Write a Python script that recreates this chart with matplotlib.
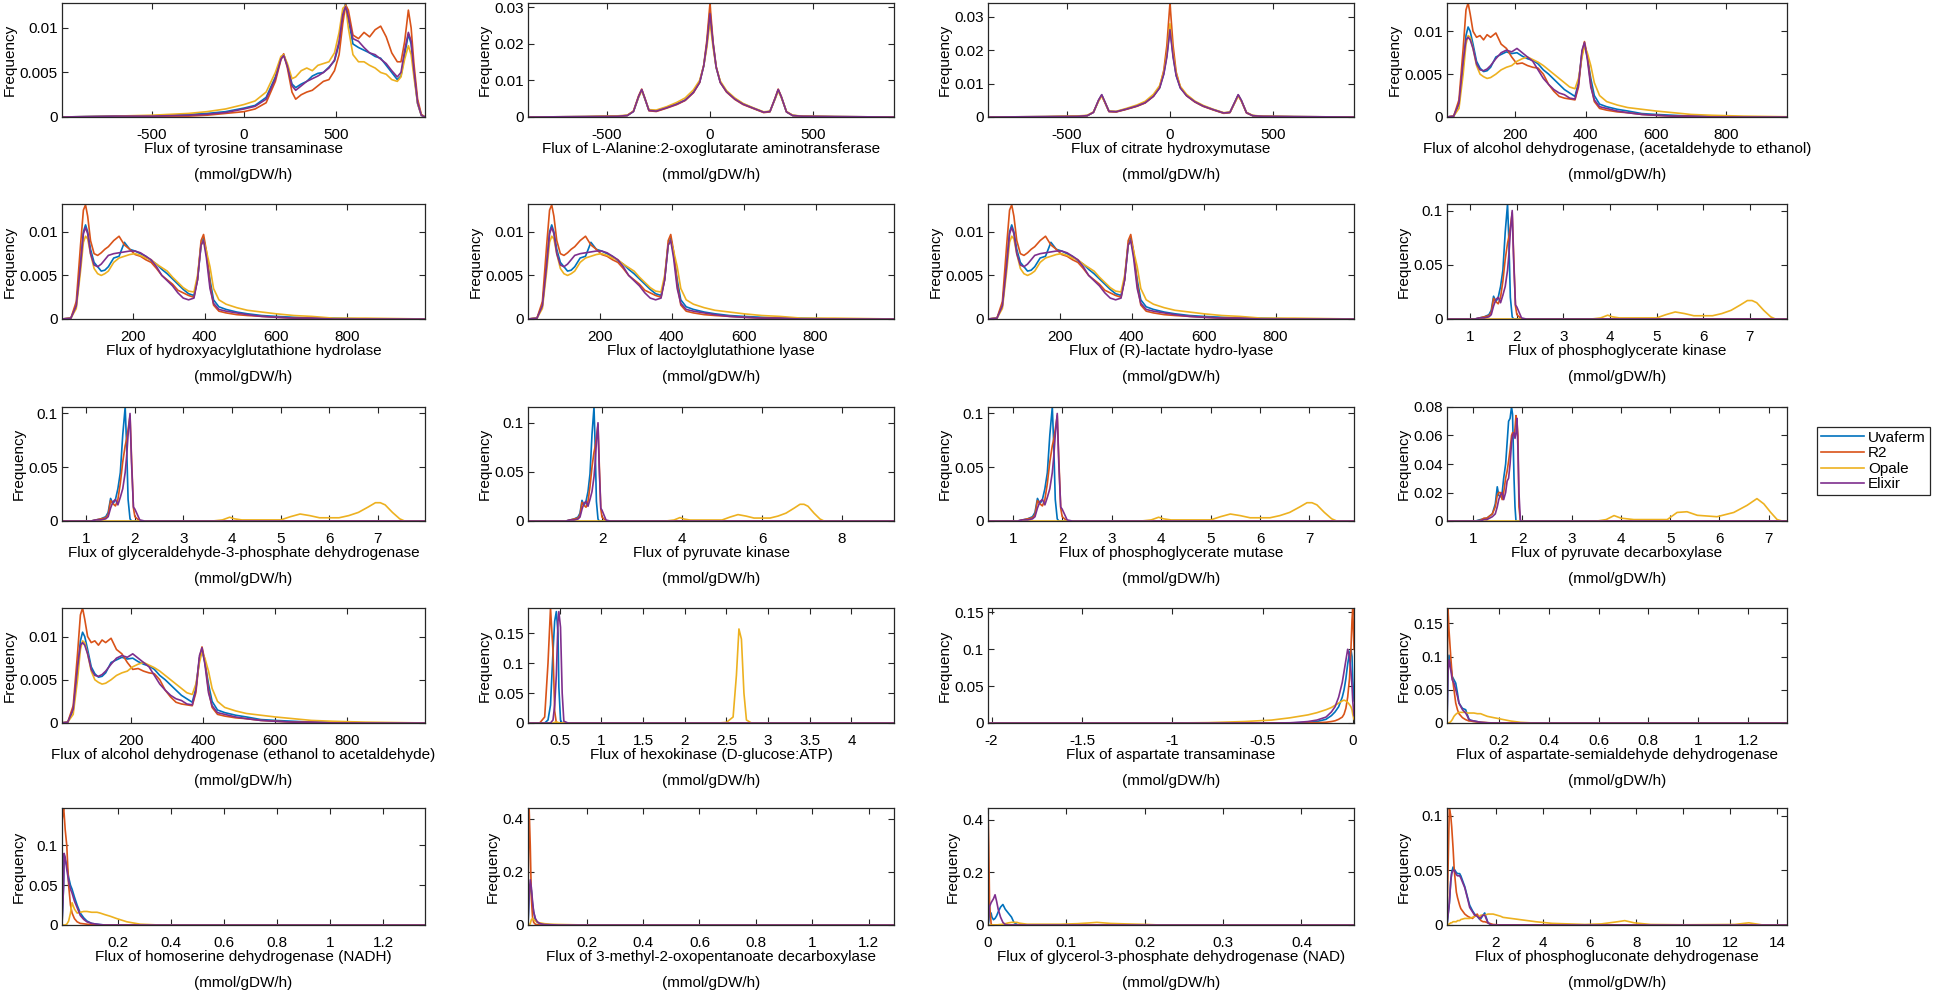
import matplotlib
matplotlib.use("Agg")
import matplotlib.pyplot as plt
from matplotlib.ticker import FuncFormatter
from matplotlib.lines import Line2D

plt.rcParams['font.family'] = ['Liberation Sans', 'DejaVu Sans']
plt.rcParams['axes.unicode_minus'] = False

# ---------------- data ----------------
series_names = ["Uvaferm", "R2", "Opale", "Elixir"]
series_colors = ["#0072BD", "#D95319", "#EDB120", "#7E2F8E"]
unit_label = "(mmol/gDW/h)"

# Panel 1: tyrosine transaminase
x_tyr = [-980, -700, -500, -300, -200, -100, 0, 60, 120, 170, 200, 215, 235, 260, 280, 310, 340, 370, 400, 430,
         460, 490, 515, 535, 550, 565, 590, 620, 650, 680, 710, 740, 770, 800, 830, 850, 870, 890, 905, 920, 940, 960, 980]
tyr_uvaferm = [0, 0.0001, 0.0001, 0.0003, 0.0004, 0.0006, 0.0010, 0.0013, 0.0022, 0.0045, 0.0066, 0.0070, 0.0058, 0.0037,
               0.0033, 0.0037, 0.0040, 0.0046, 0.0049, 0.0050, 0.0056, 0.0063, 0.0082, 0.0112, 0.0128, 0.0110, 0.0082,
               0.0078, 0.0075, 0.0072, 0.0068, 0.0066, 0.0058, 0.0050, 0.0042, 0.0046, 0.0070, 0.0093, 0.0082, 0.0050,
               0.0015, 0.0002, 0]
tyr_r2 = [0, 0, 0.0001, 0.0001, 0.0002, 0.0004, 0.0006, 0.0009, 0.0016, 0.0040, 0.0064, 0.0071, 0.0055, 0.0028, 0.0020,
          0.0025, 0.0028, 0.0030, 0.0035, 0.0040, 0.0042, 0.0052, 0.0070, 0.0105, 0.0126, 0.0120, 0.0092, 0.0088, 0.0095,
          0.0090, 0.0098, 0.0102, 0.0090, 0.0072, 0.0062, 0.0062, 0.0085, 0.0120, 0.0100, 0.0060, 0.0020, 0.0003, 0]
tyr_opale = [0, 0.0001, 0.0002, 0.0004, 0.0006, 0.0009, 0.0014, 0.0018, 0.0028, 0.0050, 0.0068, 0.0070, 0.0060, 0.0043,
             0.0045, 0.0052, 0.0055, 0.0052, 0.0058, 0.0060, 0.0062, 0.0072, 0.0095, 0.0122, 0.0125, 0.0100, 0.0070,
             0.0062, 0.0062, 0.0058, 0.0055, 0.0050, 0.0048, 0.0042, 0.0040, 0.0045, 0.0065, 0.0080, 0.0070, 0.0045,
             0.0015, 0.0002, 0]
tyr_elixir = [0, 0.0001, 0.0001, 0.0002, 0.0003, 0.0005, 0.0009, 0.0012, 0.0020, 0.0043, 0.0065, 0.0069, 0.0057, 0.0035,
              0.0030, 0.0035, 0.0040, 0.0043, 0.0046, 0.0050, 0.0055, 0.0064, 0.0085, 0.0115, 0.0124, 0.0112, 0.0088,
              0.0085, 0.0078, 0.0072, 0.0070, 0.0065, 0.0060, 0.0052, 0.0045, 0.0050, 0.0075, 0.0095, 0.0085, 0.0052,
              0.0016, 0.0002, 0]

# Panel 2: L-Alanine:2-oxoglutarate aminotransferase
x_ala = [-880, -600, -450, -400, -370, -345, -330, -315, -295, -260, -210, -160, -120, -80, -50, -30, -15, 0, 15, 30,
         50, 80, 120, 160, 210, 260, 290, 315, 330, 345, 370, 400, 450, 600, 890]
ala_uvaferm = [0, 0.0001, 0.0002, 0.0004, 0.0015, 0.0055, 0.0074, 0.0050, 0.0018, 0.0017, 0.0026, 0.0036, 0.0046, 0.0068,
               0.0095, 0.0140, 0.0200, 0.0290, 0.0200, 0.0135, 0.0095, 0.0070, 0.0050, 0.0036, 0.0024, 0.0013, 0.0015,
               0.0050, 0.0074, 0.0055, 0.0014, 0.0004, 0.0002, 0.0001, 0]
ala_r2 = [0, 0.0001, 0.0002, 0.0004, 0.0016, 0.0058, 0.0076, 0.0052, 0.0017, 0.0015, 0.0024, 0.0034, 0.0045, 0.0066,
          0.0094, 0.0142, 0.0210, 0.0310, 0.0205, 0.0138, 0.0094, 0.0068, 0.0048, 0.0034, 0.0023, 0.0012, 0.0014,
          0.0052, 0.0076, 0.0056, 0.0014, 0.0004, 0.0002, 0.0001, 0]
ala_opale = [0, 0.0001, 0.0003, 0.0005, 0.0016, 0.0054, 0.0072, 0.0050, 0.0020, 0.0019, 0.0028, 0.0040, 0.0052, 0.0074,
             0.0100, 0.0140, 0.0190, 0.0260, 0.0190, 0.0135, 0.0098, 0.0072, 0.0052, 0.0037, 0.0025, 0.0014, 0.0016,
             0.0049, 0.0071, 0.0053, 0.0015, 0.0005, 0.0002, 0.0001, 0]
ala_elixir = [0, 0.0001, 0.0002, 0.0004, 0.0015, 0.0056, 0.0075, 0.0051, 0.0018, 0.0016, 0.0025, 0.0035, 0.0046, 0.0067,
              0.0094, 0.0140, 0.0200, 0.0282, 0.0200, 0.0136, 0.0094, 0.0069, 0.0049, 0.0035, 0.0024, 0.0013, 0.0015,
              0.0051, 0.0075, 0.0055, 0.0014, 0.0004, 0.0002, 0.0001, 0]

# Panel 3: citrate hydroxymutase
x_cit = [-880, -600, -450, -400, -370, -345, -330, -315, -295, -260, -210, -160, -120, -80, -50, -30, -15, 0, 15, 30,
         50, 80, 120, 160, 210, 260, 290, 315, 330, 345, 370, 400, 450, 600, 890]
cit_uvaferm = [0, 0.0001, 0.0002, 0.0004, 0.0014, 0.0050, 0.0066, 0.0045, 0.0017, 0.0016, 0.0024, 0.0033, 0.0043, 0.0063,
               0.0088, 0.0130, 0.0185, 0.0270, 0.0185, 0.0125, 0.0088, 0.0065, 0.0046, 0.0033, 0.0022, 0.0012, 0.0014,
               0.0046, 0.0066, 0.0050, 0.0013, 0.0004, 0.0002, 0.0001, 0]
cit_r2 = [0, 0.0001, 0.0002, 0.0004, 0.0014, 0.0050, 0.0064, 0.0044, 0.0016, 0.0015, 0.0023, 0.0032, 0.0042, 0.0062,
          0.0090, 0.0140, 0.0215, 0.0342, 0.0215, 0.0135, 0.0090, 0.0064, 0.0045, 0.0032, 0.0021, 0.0011, 0.0013,
          0.0045, 0.0065, 0.0049, 0.0012, 0.0004, 0.0002, 0.0001, 0]
cit_opale = [0, 0.0001, 0.0003, 0.0005, 0.0015, 0.0048, 0.0063, 0.0045, 0.0018, 0.0017, 0.0026, 0.0036, 0.0047, 0.0068,
             0.0094, 0.0135, 0.0190, 0.0280, 0.0190, 0.0130, 0.0092, 0.0068, 0.0048, 0.0035, 0.0023, 0.0013, 0.0015,
             0.0045, 0.0063, 0.0048, 0.0014, 0.0005, 0.0002, 0.0001, 0]
cit_elixir = [0, 0.0001, 0.0002, 0.0004, 0.0014, 0.0051, 0.0067, 0.0046, 0.0017, 0.0016, 0.0024, 0.0033, 0.0043, 0.0062,
              0.0087, 0.0128, 0.0180, 0.0262, 0.0180, 0.0124, 0.0087, 0.0064, 0.0046, 0.0033, 0.0022, 0.0012, 0.0014,
              0.0047, 0.0067, 0.0050, 0.0013, 0.0004, 0.0002, 0.0001, 0]

# Panels 4 and 13: alcohol dehydrogenase
x_adh = [6, 25, 40, 52, 60, 66, 72, 80, 90, 100, 110, 120, 130, 145, 160, 175, 190, 205, 220, 235, 250, 265, 280, 295,
         310, 325, 340, 355, 370, 380, 390, 397, 405, 415, 425, 440, 460, 490, 520, 560, 600, 650, 700, 760, 850, 1020]
adh_uvaferm = [0, 0.0001, 0.0015, 0.0060, 0.0095, 0.0105, 0.0100, 0.0085, 0.0065, 0.0057, 0.0053, 0.0054, 0.0058, 0.0070,
               0.0073, 0.0076, 0.0074, 0.0075, 0.0071, 0.0068, 0.0066, 0.0062, 0.0055, 0.0050, 0.0044, 0.0038, 0.0032,
               0.0028, 0.0024, 0.0040, 0.0075, 0.0085, 0.0070, 0.0045, 0.0025, 0.0015, 0.0012, 0.0009, 0.0007, 0.0004,
               0.0003, 0.0002, 0.0001, 0.0001, 0, 0]
adh_r2 = [0, 0.0001, 0.0020, 0.0080, 0.0125, 0.0133, 0.0120, 0.0100, 0.0093, 0.0095, 0.0090, 0.0096, 0.0093, 0.0098,
          0.0085, 0.0080, 0.0070, 0.0062, 0.0063, 0.0060, 0.0058, 0.0057, 0.0050, 0.0038, 0.0030, 0.0024, 0.0022, 0.0021,
          0.0020, 0.0035, 0.0075, 0.0088, 0.0072, 0.0038, 0.0018, 0.0010, 0.0008, 0.0006, 0.0005, 0.0003, 0.0002, 0.0001,
          0.0001, 0, 0, 0]
adh_opale = [0, 0.0001, 0.0010, 0.0050, 0.0085, 0.0095, 0.0093, 0.0080, 0.0060, 0.0050, 0.0047, 0.0045, 0.0046, 0.0050,
             0.0055, 0.0058, 0.0060, 0.0065, 0.0068, 0.0070, 0.0067, 0.0064, 0.0060, 0.0055, 0.0050, 0.0045, 0.0040,
             0.0035, 0.0033, 0.0045, 0.0070, 0.0082, 0.0075, 0.0060, 0.0040, 0.0025, 0.0018, 0.0014, 0.0011, 0.0009,
             0.0007, 0.0005, 0.0003, 0.0002, 0.0001, 0]
adh_elixir = [0, 0.0001, 0.0016, 0.0065, 0.0090, 0.0093, 0.0090, 0.0080, 0.0062, 0.0055, 0.0054, 0.0056, 0.0060, 0.0068,
              0.0075, 0.0078, 0.0076, 0.0080, 0.0075, 0.0070, 0.0065, 0.0055, 0.0045, 0.0038, 0.0032, 0.0028, 0.0026,
              0.0022, 0.0021, 0.0038, 0.0078, 0.0087, 0.0068, 0.0035, 0.0020, 0.0012, 0.0010, 0.0007, 0.0005, 0.0003,
              0.0002, 0.0001, 0.0001, 0, 0, 0]

# Panels 5-7: glyoxalase-type reactions
x_glo = [0, 25, 40, 52, 60, 66, 72, 80, 90, 100, 110, 120, 130, 145, 160, 175, 190, 205, 220, 235, 250, 265, 280, 295,
         310, 325, 340, 355, 370, 380, 390, 397, 405, 415, 425, 440, 460, 490, 520, 560, 600, 650, 700, 760, 850, 1020]
glo_uvaferm = [0, 0.0001, 0.0016, 0.0065, 0.0100, 0.0108, 0.0100, 0.0080, 0.0065, 0.0060, 0.0055, 0.0056, 0.0060, 0.0070,
               0.0072, 0.0088, 0.0080, 0.0078, 0.0075, 0.0072, 0.0067, 0.0063, 0.0057, 0.0052, 0.0046, 0.0040, 0.0034,
               0.0029, 0.0027, 0.0045, 0.0085, 0.0093, 0.0075, 0.0045, 0.0022, 0.0014, 0.0011, 0.0008, 0.0006, 0.0004,
               0.0003, 0.0002, 0.0001, 0.0001, 0, 0]
glo_r2 = [0, 0.0001, 0.0020, 0.0085, 0.0125, 0.0131, 0.0118, 0.0090, 0.0075, 0.0073, 0.0076, 0.0080, 0.0083, 0.0090,
          0.0095, 0.0085, 0.0080, 0.0074, 0.0072, 0.0068, 0.0065, 0.0058, 0.0050, 0.0045, 0.0040, 0.0033, 0.0030, 0.0027,
          0.0025, 0.0045, 0.0090, 0.0097, 0.0078, 0.0040, 0.0016, 0.0009, 0.0007, 0.0005, 0.0004, 0.0003, 0.0002, 0.0001,
          0.0001, 0, 0, 0]
glo_opale = [0, 0.0001, 0.0012, 0.0055, 0.0088, 0.0095, 0.0092, 0.0075, 0.0058, 0.0052, 0.0050, 0.0052, 0.0055, 0.0065,
             0.0070, 0.0072, 0.0074, 0.0075, 0.0073, 0.0070, 0.0068, 0.0063, 0.0059, 0.0055, 0.0048, 0.0042, 0.0036,
             0.0032, 0.0031, 0.0050, 0.0085, 0.0090, 0.0078, 0.0060, 0.0035, 0.0022, 0.0017, 0.0013, 0.0010, 0.0008,
             0.0006, 0.0004, 0.0003, 0.0001, 0.0001, 0]
glo_elixir = [0, 0.0001, 0.0015, 0.0062, 0.0098, 0.0105, 0.0098, 0.0075, 0.0062, 0.0060, 0.0063, 0.0068, 0.0073, 0.0075,
              0.0076, 0.0077, 0.0078, 0.0078, 0.0076, 0.0072, 0.0068, 0.0060, 0.0050, 0.0044, 0.0038, 0.0030, 0.0024,
              0.0022, 0.0024, 0.0045, 0.0085, 0.0090, 0.0070, 0.0035, 0.0018, 0.0011, 0.0009, 0.0007, 0.0005, 0.0003,
              0.0002, 0.0001, 0.0001, 0, 0, 0]

# Panels 8-11: lower glycolysis
x_gly = [0.1, 1.1, 1.2, 1.3, 1.4, 1.45, 1.5, 1.55, 1.6, 1.65, 1.7, 1.75, 1.8, 1.83, 1.86, 1.9, 1.93, 1.97, 2.0, 2.1, 2.2,
         3.6, 3.8, 3.95, 4.05, 4.2, 4.6, 5.0, 5.2, 5.4, 5.6, 5.8, 6.0, 6.2, 6.4, 6.6, 6.8, 6.95, 7.05, 7.15, 7.3, 7.45,
         7.55, 9.3]
gly_uvaferm = [0, 0, 0.001, 0.002, 0.004, 0.008, 0.021, 0.016, 0.020, 0.030, 0.045, 0.080, 0.106, 0.070, 0.020, 0.002,
               0, 0, 0, 0, 0,
               0, 0, 0, 0, 0, 0, 0, 0, 0, 0, 0, 0, 0, 0, 0, 0, 0, 0, 0, 0, 0, 0, 0]
pk_uvaferm = [0, 0, 0.001, 0.002, 0.004, 0.008, 0.021, 0.016, 0.020, 0.030, 0.048, 0.088, 0.116, 0.075, 0.020, 0.002,
              0, 0, 0, 0, 0,
              0, 0, 0, 0, 0, 0, 0, 0, 0, 0, 0, 0, 0, 0, 0, 0, 0, 0, 0, 0, 0, 0, 0]
gly_r2 = [0, 0, 0.001, 0.002, 0.003, 0.006, 0.019, 0.016, 0.014, 0.020, 0.035, 0.055, 0.070, 0.076, 0.085, 0.098, 0.060,
          0.012, 0.004, 0, 0,
          0, 0, 0, 0, 0, 0, 0, 0, 0, 0, 0, 0, 0, 0, 0, 0, 0, 0, 0, 0, 0, 0, 0]
gly_opale = [0, 0, 0, 0, 0, 0, 0, 0, 0, 0, 0, 0, 0, 0, 0, 0, 0, 0, 0, 0, 0,
             0, 0.001, 0.0035, 0.002, 0.001, 0.001, 0.001, 0.004, 0.0065, 0.005, 0.003, 0.003, 0.003, 0.005, 0.008,
             0.013, 0.017, 0.017, 0.015, 0.008, 0.002, 0, 0]
gly_elixir = [0, 0, 0.001, 0.001, 0.002, 0.004, 0.012, 0.018, 0.020, 0.015, 0.022, 0.030, 0.045, 0.060, 0.080, 0.100,
              0.055, 0.013, 0.011, 0.001, 0,
              0, 0, 0, 0, 0, 0, 0, 0, 0, 0, 0, 0, 0, 0, 0, 0, 0, 0, 0, 0, 0, 0, 0]

# Panel 12: pyruvate decarboxylase
x_pdc = [0.47, 1.05, 1.15, 1.22, 1.28, 1.39, 1.45, 1.49, 1.52, 1.55, 1.59, 1.62, 1.66, 1.69, 1.72, 1.75, 1.78, 1.8, 1.83,
         1.85, 1.87, 1.89, 1.91, 1.93, 1.96, 2.05,
         3.52, 3.7, 3.86, 4.0, 4.26, 4.94, 5.14, 5.34, 5.55, 5.95, 6.29, 6.56, 6.76, 6.9, 7.04, 7.17, 7.27, 7.37]
pdc_uvaferm = [0, 0, 0.001, 0.0015, 0.002, 0.005, 0.012, 0.024, 0.018, 0.017, 0.020, 0.030, 0.040, 0.055, 0.070, 0.072,
               0.080, 0.075, 0.030, 0.010, 0, 0, 0, 0, 0, 0,
               0, 0, 0, 0, 0, 0, 0, 0, 0, 0, 0, 0, 0, 0, 0, 0, 0, 0]
pdc_r2 = [0, 0, 0.0005, 0.002, 0.002, 0.005, 0.010, 0.018, 0.020, 0.020, 0.015, 0.020, 0.030, 0.035, 0.042, 0.050, 0.060,
          0.062, 0.060, 0.065, 0.074, 0.070, 0.060, 0.010, 0, 0,
          0, 0, 0, 0, 0, 0, 0, 0, 0, 0, 0, 0, 0, 0, 0, 0, 0, 0]
pdc_opale = [0, 0, 0, 0, 0, 0, 0, 0, 0, 0, 0, 0, 0, 0, 0, 0, 0, 0, 0, 0, 0, 0, 0, 0, 0, 0,
             0, 0.001, 0.0038, 0.002, 0.001, 0.001, 0.006, 0.0065, 0.004, 0.003, 0.006, 0.011, 0.0157, 0.012, 0.006,
             0.001, 0, 0]
pdc_elixir = [0, 0, 0, 0.001, 0.001, 0.003, 0.005, 0.010, 0.015, 0.018, 0.020, 0.015, 0.020, 0.028, 0.030, 0.040, 0.055,
              0.060, 0.062, 0.058, 0.062, 0.072, 0.050, 0.020, 0, 0,
              0, 0, 0, 0, 0, 0, 0, 0, 0, 0, 0, 0, 0, 0, 0, 0, 0, 0]

# Panel 14: hexokinase
x_hex = [0.12, 0.26, 0.32, 0.36, 0.39, 0.42, 0.44, 0.46, 0.48, 0.49, 0.51, 0.53, 0.55, 0.6,
         2.4, 2.5, 2.58, 2.62, 2.65, 2.68, 2.71, 2.74, 2.8, 4.51]
hex_uvaferm = [0, 0, 0, 0.005, 0.03, 0.12, 0.17, 0.186, 0.15, 0.06, 0.005, 0, 0, 0,
               0, 0, 0, 0, 0, 0, 0, 0, 0, 0]
hex_r2 = [0, 0, 0.01, 0.10, 0.192, 0.12, 0.02, 0, 0, 0, 0, 0, 0, 0,
          0, 0, 0, 0, 0, 0, 0, 0, 0, 0]
hex_opale = [0, 0, 0, 0, 0, 0, 0.001, 0.002, 0.001, 0, 0, 0, 0, 0,
             0, 0.001, 0.01, 0.08, 0.157, 0.14, 0.05, 0.005, 0, 0]
hex_elixir = [0, 0, 0, 0, 0, 0.005, 0.03, 0.08, 0.17, 0.186, 0.16, 0.05, 0.003, 0,
              0, 0, 0, 0, 0, 0, 0, 0, 0, 0]

# Panel 15: aspartate transaminase
x_ast = [-2.02, -1.0, -0.8, -0.6, -0.45, -0.35, -0.3, -0.25, -0.2, -0.15, -0.12, -0.1, -0.08, -0.06, -0.05, -0.04,
         -0.03, -0.02, -0.012, -0.006, -0.002, 0.005]
ast_uvaferm = [0, 0, 0, 0, 0, 0, 0.0005, 0.001, 0.002, 0.005, 0.01, 0.015, 0.022, 0.035, 0.045, 0.06, 0.08, 0.095,
               0.10, 0.09, 0.06, 0.03]
ast_r2 = [0, 0, 0, 0, 0, 0, 0, 0, 0.0005, 0.001, 0.002, 0.003, 0.005, 0.008, 0.012, 0.02, 0.035, 0.06, 0.10, 0.14,
          0.156, 0.10]
ast_opale = [0, 0, 0.0005, 0.002, 0.004, 0.007, 0.009, 0.011, 0.014, 0.018, 0.021, 0.024, 0.027, 0.030, 0.031, 0.030,
             0.028, 0.025, 0.022, 0.018, 0.012, 0.005]
ast_elixir = [0, 0, 0, 0, 0, 0.0003, 0.001, 0.002, 0.004, 0.008, 0.015, 0.022, 0.035, 0.055, 0.07, 0.085, 0.10, 0.09,
              0.07, 0.05, 0.03, 0.01]

# Panel 16: aspartate-semialdehyde dehydrogenase
x_asd = [-0.008, -0.004, 0.0, 0.007, 0.013, 0.02, 0.027, 0.034, 0.04, 0.054, 0.067, 0.074, 0.08, 0.087, 0.1, 0.114,
         0.127, 0.14, 0.154, 0.18, 0.194, 0.22, 0.247, 0.287, 0.34, 0.4, 1.356]
asd_uvaferm = [0, 0.08, 0.102, 0.085, 0.07, 0.065, 0.06, 0.045, 0.03, 0.022, 0.02, 0.012, 0.006, 0.004, 0.003, 0.002,
               0.001, 0.0005, 0.0003, 0, 0, 0, 0, 0, 0, 0, 0]
asd_r2 = [0.035, 0.173, 0.14, 0.10, 0.07, 0.05, 0.03, 0.02, 0.014, 0.008, 0.005, 0.004, 0.003, 0.003, 0.002, 0.0015,
          0.001, 0.001, 0.0005, 0, 0, 0, 0, 0, 0, 0, 0]
asd_opale = [0, 0, 0, 0.002, 0.005, 0.01, 0.013, 0.015, 0.016, 0.016, 0.016, 0.015, 0.015, 0.015, 0.015, 0.014, 0.014,
             0.012, 0.010, 0.008, 0.007, 0.005, 0.003, 0.001, 0, 0, 0]
asd_elixir = [0, 0.075, 0.095, 0.08, 0.065, 0.06, 0.05, 0.04, 0.03, 0.02, 0.015, 0.01, 0.005, 0.004, 0.003, 0.002,
              0.001, 0.0005, 0.0003, 0, 0, 0, 0, 0, 0, 0, 0]

# Panel 17: homoserine dehydrogenase (NADH)
x_hom = [-0.012, -0.006, -0.004, 0.0, 0.006, 0.013, 0.02, 0.026, 0.035, 0.045, 0.057, 0.07, 0.082, 0.1, 0.12, 0.132,
         0.15, 0.17, 0.195, 0.233, 0.283, 0.357, 0.5, 1.357]
hom_uvaferm = [0, 0.05, 0.088, 0.082, 0.075, 0.06, 0.05, 0.045, 0.035, 0.025, 0.015, 0.009, 0.005, 0.002, 0.001, 0.0005,
               0, 0, 0, 0, 0, 0, 0, 0]
hom_r2 = [0.13, 0.147, 0.14, 0.12, 0.10, 0.05, 0.025, 0.015, 0.008, 0.004, 0.002, 0.0015, 0.001, 0.0005, 0, 0, 0, 0, 0,
          0, 0, 0, 0, 0]
hom_opale = [0, 0, 0, 0, 0.001, 0.005, 0.015, 0.028, 0.02, 0.015, 0.016, 0.017, 0.017, 0.016, 0.016, 0.015, 0.013,
             0.011, 0.008, 0.004, 0.001, 0, 0, 0]
hom_elixir = [0, 0.05, 0.09, 0.085, 0.07, 0.055, 0.045, 0.04, 0.03, 0.022, 0.012, 0.007, 0.004, 0.002, 0.001, 0.0005,
              0, 0, 0, 0, 0, 0, 0, 0]

# Panel 18: 3-methyl-2-oxopentanoate decarboxylase
x_mop = [-0.008, -0.004, 0.0, 0.004, 0.008, 0.012, 0.018, 0.025, 0.035, 0.05, 0.07, 0.1, 0.15, 0.2, 1.29]
mop_uvaferm = [0, 0.1, 0.15, 0.13, 0.08, 0.05, 0.02, 0.01, 0.005, 0.002, 0.001, 0, 0, 0, 0]
mop_r2 = [0.1, 0.44, 0.3, 0.1, 0.03, 0.01, 0.003, 0.001, 0, 0, 0, 0, 0, 0, 0]
mop_opale = [0, 0, 0.005, 0.02, 0.025, 0.02, 0.015, 0.01, 0.008, 0.005, 0.003, 0.002, 0.001, 0, 0]
mop_elixir = [0, 0.12, 0.17, 0.14, 0.09, 0.05, 0.025, 0.012, 0.005, 0.002, 0.001, 0, 0, 0, 0]

# Panel 19: glycerol-3-phosphate dehydrogenase (NAD)
x_g3p = [0, 0.001, 0.002, 0.004, 0.005, 0.007, 0.009, 0.011, 0.013, 0.016, 0.019, 0.022, 0.026, 0.03, 0.033, 0.037,
         0.04, 0.05, 0.07, 0.092, 0.114, 0.13, 0.139, 0.156, 0.178, 0.203, 0.22, 0.467]
g3p_uvaferm = [0, 0.02, 0.05, 0.045, 0.03, 0.02, 0.025, 0.035, 0.05, 0.068, 0.078, 0.06, 0.045, 0.03, 0.01, 0.002, 0,
               0, 0, 0, 0, 0, 0, 0, 0, 0, 0, 0]
g3p_r2 = [0.445, 0.3, 0.08, 0.005, 0, 0, 0, 0, 0, 0, 0, 0, 0, 0, 0, 0, 0, 0, 0, 0, 0, 0, 0, 0, 0, 0, 0, 0]
g3p_opale = [0, 0, 0, 0, 0, 0, 0, 0, 0.001, 0.002, 0.003, 0.005, 0.008, 0.01, 0.01, 0.01, 0.007, 0.003, 0.003, 0.003,
             0.005, 0.008, 0.01, 0.006, 0.004, 0.002, 0, 0]
g3p_elixir = [0, 0.03, 0.07, 0.085, 0.09, 0.1, 0.115, 0.09, 0.06, 0.03, 0.01, 0.002, 0, 0, 0, 0, 0, 0, 0, 0, 0, 0, 0,
              0, 0, 0, 0, 0]

# Panel 20: phosphogluconate dehydrogenase
x_pgd = [-0.09, 0.01, 0.07, 0.11, 0.17, 0.22, 0.31, 0.36, 0.45, 0.5, 0.67, 0.79, 0.88, 1.0, 1.09, 1.2, 1.31, 1.36, 1.45,
         1.52, 1.66, 1.8, 1.88, 2.2, 2.3, 3.0, 3.7, 4.4, 5.8, 6.5, 7.2, 7.5, 7.9, 8.6, 10.0, 12.2, 12.8, 13.4, 14.43]
pgd_uvaferm = [0, 0.02, 0.04, 0.048, 0.053, 0.051, 0.048, 0.047, 0.047, 0.045, 0.035, 0.025, 0.018, 0.013, 0.01, 0.008,
               0.005, 0.006, 0.009, 0.011, 0.002, 0, 0, 0, 0,
               0, 0, 0, 0, 0, 0, 0, 0, 0, 0, 0, 0, 0, 0]
pgd_r2 = [0.005, 0.107, 0.1, 0.09, 0.07, 0.05, 0.03, 0.025, 0.018, 0.015, 0.01, 0.008, 0.007, 0.006, 0.008, 0.010, 0.006,
          0.004, 0.003, 0.003, 0.002, 0.001, 0.0005, 0, 0,
          0, 0, 0, 0, 0, 0, 0, 0, 0, 0, 0, 0, 0, 0]
pgd_opale = [0, 0.001, 0.002, 0.002, 0.003, 0.003, 0.003, 0.004, 0.004, 0.005, 0.006, 0.006, 0.006, 0.007, 0.008, 0.008,
             0.008, 0.009, 0.009, 0.009, 0.01, 0.01, 0.01, 0.008, 0.007,
             0.005, 0.003, 0.0015, 0.0005, 0.001, 0.003, 0.004, 0.002, 0.0005, 0.0002, 0.0005, 0.002, 0, 0]
pgd_elixir = [0, 0.02, 0.04, 0.047, 0.05, 0.05, 0.046, 0.045, 0.045, 0.043, 0.034, 0.024, 0.016, 0.012, 0.009, 0.008,
              0.006, 0.007, 0.009, 0.009, 0.002, 0, 0, 0, 0,
              0, 0, 0, 0, 0, 0, 0, 0, 0, 0, 0, 0, 0, 0]

# tick values
ticks_pm500 = [-500, 0, 500]
ticks_200s = [200, 400, 600, 800]
ticks_1to7 = [1, 2, 3, 4, 5, 6, 7]
ticks_2to8 = [2, 4, 6, 8]
ticks_hex = [0.5, 1, 1.5, 2, 2.5, 3, 3.5, 4]
ticks_ast = [-2, -1.5, -1, -0.5, 0]
ticks_small = [0.2, 0.4, 0.6, 0.8, 1, 1.2]
ticks_g3p = [0, 0.1, 0.2, 0.3, 0.4]
ticks_pgd = [2, 4, 6, 8, 10, 12, 14]
yt_005 = [0, 0.005, 0.01]
yt_001 = [0, 0.01, 0.02, 0.03]
yt_05 = [0, 0.05, 0.1]
yt_02 = [0, 0.02, 0.04, 0.06, 0.08]
yt_15 = [0, 0.05, 0.1, 0.15]
yt_2 = [0, 0.2, 0.4]

# (name, x, series, xlim, ylim, xticks, yticks)
panels = [
    ("tyrosine transaminase", x_tyr, [tyr_uvaferm, tyr_r2, tyr_opale, tyr_elixir], (-985, 980), (0, 0.0128), ticks_pm500, yt_005),
    ("L-Alanine:2-oxoglutarate aminotransferase", x_ala, [ala_uvaferm, ala_r2, ala_opale, ala_elixir], (-880, 890), (0, 0.0311), ticks_pm500, yt_001),
    ("citrate hydroxymutase", x_cit, [cit_uvaferm, cit_r2, cit_opale, cit_elixir], (-880, 890), (0, 0.0342), ticks_pm500, yt_001),
    ("alcohol dehydrogenase, (acetaldehyde to ethanol)", x_adh, [adh_uvaferm, adh_r2, adh_opale, adh_elixir], (6, 973), (0, 0.0133), ticks_200s, yt_005),
    ("hydroxyacylglutathione hydrolase", x_glo, [glo_uvaferm, glo_r2, glo_opale, glo_elixir], (0, 1018), (0, 0.0132), ticks_200s, yt_005),
    ("lactoylglutathione lyase", x_glo, [glo_uvaferm, glo_r2, glo_opale, glo_elixir], (0, 1018), (0, 0.0132), ticks_200s, yt_005),
    ("(R)-lactate hydro-lyase", x_glo, [glo_uvaferm, glo_r2, glo_opale, glo_elixir], (0, 1018), (0, 0.0132), ticks_200s, yt_005),
    ("phosphoglycerate kinase", x_gly, [gly_uvaferm, gly_r2, gly_opale, gly_elixir], (0.5, 7.8), (0, 0.106), ticks_1to7, yt_05),
    ("glyceraldehyde-3-phosphate dehydrogenase", x_gly, [gly_uvaferm, gly_r2, gly_opale, gly_elixir], (0.5, 7.97), (0, 0.106), ticks_1to7, yt_05),
    ("pyruvate kinase", x_gly, [pk_uvaferm, gly_r2, gly_opale, gly_elixir], (0.15, 9.3), (0, 0.116), ticks_2to8, yt_05),
    ("phosphoglycerate mutase", x_gly, [gly_uvaferm, gly_r2, gly_opale, gly_elixir], (0.5, 7.9), (0, 0.106), ticks_1to7, yt_05),
    ("pyruvate decarboxylase", x_pdc, [pdc_uvaferm, pdc_r2, pdc_opale, pdc_elixir], (0.47, 7.37), (0, 0.0795), ticks_1to7, yt_02),
    ("alcohol dehydrogenase (ethanol to acetaldehyde)", x_adh, [adh_uvaferm, adh_r2, adh_opale, adh_elixir], (9, 1015), (0, 0.0133), ticks_200s, yt_005),
    ("hexokinase (D-glucose:ATP)", x_hex, [hex_uvaferm, hex_r2, hex_opale, hex_elixir], (0.12, 4.51), (0, 0.192), ticks_hex, yt_15),
    ("aspartate transaminase", x_ast, [ast_uvaferm, ast_r2, ast_opale, ast_elixir], (-2.02, 0.005), (0, 0.156), ticks_ast, yt_15),
    ("aspartate-semialdehyde dehydrogenase", x_asd, [asd_uvaferm, asd_r2, asd_opale, asd_elixir], (-0.008, 1.356), (0, 0.173), ticks_small, yt_15),
    ("homoserine dehydrogenase (NADH)", x_hom, [hom_uvaferm, hom_r2, hom_opale, hom_elixir], (-0.012, 1.357), (0, 0.147), ticks_small, yt_05),
    ("3-methyl-2-oxopentanoate decarboxylase", x_mop, [mop_uvaferm, mop_r2, mop_opale, mop_elixir], (-0.008, 1.29), (0, 0.44), ticks_small, yt_2),
    ("glycerol-3-phosphate dehydrogenase (NAD)", x_g3p, [g3p_uvaferm, g3p_r2, g3p_opale, g3p_elixir], (0, 0.467), (0, 0.445), ticks_g3p, yt_2),
    ("phosphogluconate dehydrogenase", x_pgd, [pgd_uvaferm, pgd_r2, pgd_opale, pgd_elixir], (-0.09, 14.43), (0, 0.107), ticks_pgd, yt_05),
]

# ---------------- layout ----------------
W, H = 1960, 993
fig = plt.figure(figsize=(W / 100, H / 100), dpi=100)
col_px = [(62, 425), (528, 894), (988, 1354), (1447, 1787)]
row_px = [(3, 117), (204, 319), (407, 521), (608, 723), (808, 925)]
edge = "#262626"
fmt = FuncFormatter(lambda v, p: "%g" % v)
FS = 11

for i, (name, xs, ys, xl, yl, xt, yt) in enumerate(panels):
    r, c = divmod(i, 4)
    (x0, x1), (y0, y1) = col_px[c], row_px[r]
    ax = fig.add_axes([x0 / W, 1 - y1 / H, (x1 - x0) / W, (y1 - y0) / H])
    for s, col in zip(ys, series_colors):
        ax.plot(xs, s, color=col, lw=1.2)
    ax.set_xlim(*xl)
    ax.set_ylim(*yl)
    ax.set_xticks(xt)
    ax.set_yticks(yt)
    ax.xaxis.set_major_formatter(fmt)
    ax.yaxis.set_major_formatter(fmt)
    ax.tick_params(direction="in", top=True, right=True, length=4, width=0.8, colors=edge,
                   labelcolor="black", labelsize=FS)
    ax.tick_params(axis="x", pad=8)
    ax.tick_params(axis="y", pad=3)
    for sp in ax.spines.values():
        sp.set_color(edge)
        sp.set_linewidth(0.9)
    ax.set_xlabel("Flux of %s\n%s" % (name, unit_label), fontsize=FS, labelpad=0, linespacing=2.1)
    ax.set_ylabel("Frequency", fontsize=FS, labelpad=2)

handles = [Line2D([0], [0], color=c, lw=1.2) for c in series_colors]
leg = fig.legend(handles, series_names, loc="upper left", bbox_to_anchor=(1817 / W, 1 - 427 / H),
                 fontsize=FS, frameon=True, fancybox=False, edgecolor=edge, framealpha=1,
                 handlelength=2.8, handletextpad=0.3, labelspacing=0.1, borderpad=0.25, borderaxespad=0)
leg.get_frame().set_linewidth(0.9)

fig.savefig("out.png", dpi=100)
